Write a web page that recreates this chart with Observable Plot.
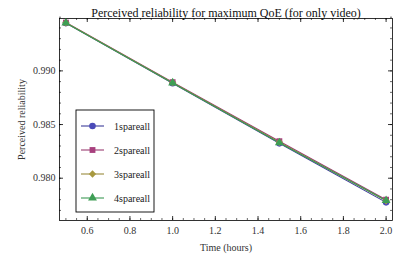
<!DOCTYPE html>
<html><head><meta charset="utf-8">
<script src="https://cdn.jsdelivr.net/npm/d3@7"></script>
<script src="https://cdn.jsdelivr.net/npm/@observablehq/plot@0.6"></script>
<style>body{margin:0;background:#fff}svg, svg text, svg g{font-family:"Times New Roman","Liberation Serif",Times,serif !important}</style>
</head><body><div id="c"></div>
<script>
const times = [0.5, 1.0, 1.5, 2.0];
const seriesNames = ["1spareall", "2spareall", "3spareall", "4spareall"];
const s1 = [0.99445, 0.98885, 0.98325, 0.97775];
const s2 = [0.99450, 0.98895, 0.98345, 0.97800];
const s3 = [0.99448, 0.98890, 0.98335, 0.97790];
const s4 = [0.99446, 0.98887, 0.98330, 0.97792];
const seriesValues = [s1, s2, s3, s4];
const colors = ["#3d3d99", "#993d71", "#998b3d", "#3d9954"];
const markerFill = ["#4a4ab8", "#a8407e", "#a8993f", "#3e9e55"];
const symbols = ["circle", "square", "diamond2", "triangle"];
const xMajor = [0.6, 0.8, 1.0, 1.2, 1.4, 1.6, 1.8, 2.0];
const xMinor = d3.range(0.5, 2.03, 0.05).map(v => +v.toFixed(2));
const yMajor = [0.980, 0.985, 0.990];
const yMinor = d3.range(0.977, 0.9951, 0.001).map(v => +v.toFixed(3));
const title = "Perceived reliability for maximum QoE (for only video)";

const data = [];
seriesNames.forEach((n, i) => times.forEach((t, j) => data.push({series: n, t, v: seriesValues[i][j]})));

const W = 401, H = 263, mt = 18, mb = 43, ml = 59, mr = 9;
const fw = W - ml - mr, fh = H - mt - mb;
const FONT = "'Times New Roman', 'Liberation Serif', Times, serif";

const plot = Plot.plot({
  width: W, height: H,
  marginTop: mt, marginBottom: mb, marginLeft: ml, marginRight: mr,
  style: {fontFamily: FONT, fontSize: "10px", background: "#fff"},
  x: {domain: [0.47, 2.03]},
  y: {domain: [0.97606, 0.99488]},
  color: {domain: seriesNames, range: colors},
  symbol: {domain: seriesNames, range: symbols},
  marks: [
    Plot.frame({stroke: "#000", strokeWidth: 0.8}),
    Plot.tickX(xMajor, {x: d => d, insetTop: fh - 4, stroke: "#000", strokeWidth: 0.8}),
    Plot.tickX(xMajor, {x: d => d, insetBottom: fh - 4, stroke: "#000", strokeWidth: 0.8}),
    Plot.tickX(xMinor, {x: d => d, insetTop: fh - 2, stroke: "#000", strokeWidth: 0.6}),
    Plot.tickX(xMinor, {x: d => d, insetBottom: fh - 2, stroke: "#000", strokeWidth: 0.6}),
    Plot.tickY(yMajor, {y: d => d, insetRight: fw - 4, stroke: "#000", strokeWidth: 0.8}),
    Plot.tickY(yMajor, {y: d => d, insetLeft: fw - 4, stroke: "#000", strokeWidth: 0.8}),
    Plot.tickY(yMinor, {y: d => d, insetRight: fw - 2, stroke: "#000", strokeWidth: 0.6}),
    Plot.tickY(yMinor, {y: d => d, insetLeft: fw - 2, stroke: "#000", strokeWidth: 0.6}),
    Plot.axisX(xMajor, {tickSize: 0, tickPadding: 6, tickFormat: d3.format(".1f"), fontSize: 10, fill: "#333",
      label: "Time (hours)", labelAnchor: "center", labelArrow: "none", labelOffset: 30}),
    Plot.axisY(yMajor, {tickSize: 0, tickPadding: 4, tickFormat: d3.format(".3f"), fontSize: 10, fill: "#333",
      label: "Perceived reliability", labelAnchor: "center", labelArrow: "none", labelOffset: 42}),
    Plot.line(data, {x: "t", y: "v", z: "series", stroke: "series", strokeWidth: 1.1}),
    Plot.dot(data, {x: "t", y: "v", symbol: "series", fill: d => markerFill[seriesNames.indexOf(d.series)], r: 3.3, stroke: "none"}),
    Plot.text([title], {frameAnchor: "top", dy: -10, fontSize: 12, fill: "#111"})
  ]
});
document.getElementById("c").appendChild(plot);
d3.select(plot).selectAll("text, g").style("font-family", FONT);

// legend
const svg = d3.select(plot);
const lg = svg.append("g").attr("text-anchor", "start").style("font-family", FONT);
const bx = 76, by = 110, bw = 78, bh = 102;
lg.append("rect").attr("x", bx).attr("y", by).attr("width", bw).attr("height", bh)
  .attr("fill", "#fff").attr("stroke", "#000").attr("stroke-width", 0.9);
const symMap = {circle: d3.symbolCircle, square: d3.symbolSquare, diamond2: d3.symbolDiamond2, triangle: d3.symbolTriangle};
seriesNames.forEach((n, i) => {
  const yy = by + 16 + i * 24;
  lg.append("line").attr("x1", bx + 5).attr("x2", bx + 28).attr("y1", yy).attr("y2", yy)
    .attr("stroke", colors[i]).attr("stroke-width", 1.1);
  lg.append("path").attr("d", d3.symbol(symMap[symbols[i]], Math.PI * 3.3 * 3.3)())
    .attr("transform", `translate(${bx + 16.5},${yy})`).attr("fill", markerFill[i]);
  lg.append("text").attr("x", bx + 38).attr("y", yy).attr("dy", "0.35em").attr("text-anchor", "start")
    .attr("font-size", 10).attr("fill", "#222").style("font-family", FONT).text(n);
});
</script></body></html>
